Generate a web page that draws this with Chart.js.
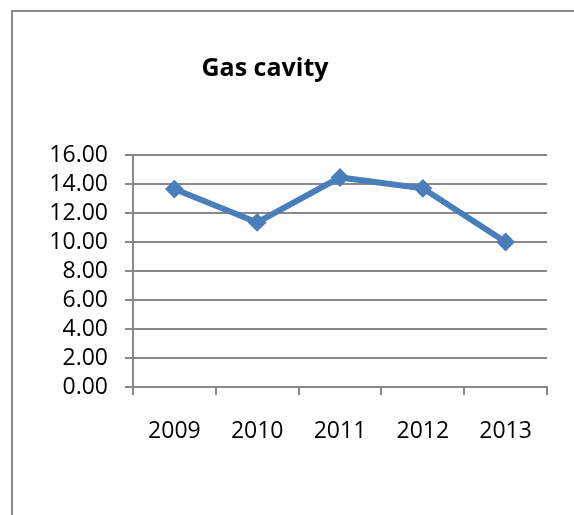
<!DOCTYPE html>
<html>
<head>
<meta charset="utf-8">
<script src="https://cdn.jsdelivr.net/npm/chart.js@4/dist/chart.umd.min.js"></script>
<style>
    html, body { margin: 0; padding: 0; background: #fff; overflow: hidden; }
    .frame {
        position: absolute; left: 11px; top: 10px; width: 620px; height: 560px;
        border-left: 2px solid #8a8a8a; border-top: 2px solid #8a8a8a;
    }
    #gasChart { position: absolute; left: 0; top: 0; }
</style>
</head>
<body>
<div class="frame"></div>
<canvas id="gasChart" width="574" height="515"></canvas>
<script>
// Chart data
const years = ['2009', '2010', '2011', '2012', '2013'];
const gasCavity = [13.65, 11.35, 14.45, 13.7, 10.0];
const yTicks = [0, 2, 4, 6, 8, 10, 12, 14, 16];
const chartTitle = 'Gas cavity';

const FONT = '"Open Sans", "Noto Sans", sans-serif';
const GRID = '#898989';
const LINE = '#4a7ebb';

// Title drawn at the same spot as in the original workbook chart
const titlePlugin = {
    id: 'offsetTitle',
    afterDraw(chart) {
        const c = chart.ctx;
        c.save();
        c.font = 'bold 25px ' + FONT;
        c.fillStyle = '#000';
        c.textAlign = 'center';
        c.textBaseline = 'alphabetic';
        c.fillText(chartTitle, 265, 76);
        c.restore();
    }
};

document.addEventListener('DOMContentLoaded', function() {
    const ctx = document.getElementById('gasChart');

    new Chart(ctx, {
        type: 'line',
        data: {
            labels: years,
            datasets: [{
                label: chartTitle,
                data: gasCavity,
                borderColor: LINE,
                backgroundColor: LINE,
                borderWidth: 6,
                pointStyle: 'rectRot',
                pointRadius: 8,
                pointBorderWidth: 2,
                pointBackgroundColor: LINE,
                pointBorderColor: LINE,
                tension: 0,
                fill: false
            }]
        },
        options: {
            responsive: false,
            animation: false,
            layout: {
                padding: { left: 0, right: 27, top: 155, bottom: 68 }
            },
            plugins: {
                legend: { display: false },
                tooltip: { enabled: false },
                title: { display: false }
            },
            scales: {
                x: {
                    offset: true,
                    afterFit: function(scale) { scale.height = 60; },
                    grid: {
                        offset: true,
                        drawOnChartArea: false,
                        color: GRID,
                        lineWidth: 2,
                        tickLength: 8
                    },
                    border: { color: GRID, width: 2 },
                    ticks: {
                        color: '#000',
                        padding: 23,
                        font: { family: FONT, size: 23 }
                    }
                },
                y: {
                    min: 0,
                    max: 16,
                    afterFit: function(scale) { scale.width = 133; },
                    afterBuildTicks: function(scale) {
                        scale.ticks = yTicks.map(v => ({ value: v }));
                    },
                    grid: {
                        color: GRID,
                        lineWidth: 2,
                        tickLength: 8
                    },
                    border: { color: GRID, width: 2 },
                    ticks: {
                        autoSkip: false,
                        color: '#000',
                        padding: 17,
                        font: { family: FONT, size: 23 },
                        callback: function(value) { return Number(value).toFixed(2); }
                    }
                }
            }
        },
        plugins: [titlePlugin]
    });
});
</script>
</body>
</html>
